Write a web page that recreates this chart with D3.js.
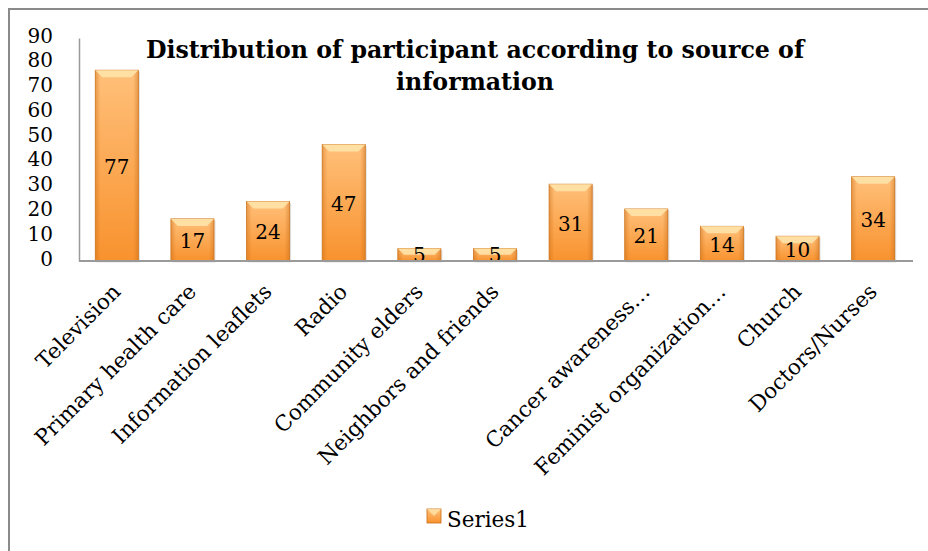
<!DOCTYPE html>
<html>
<head>
<meta charset="utf-8">
<script src="https://cdn.jsdelivr.net/npm/d3@7"></script>
<style>
  body { margin: 0; background: #fff; }
  svg { display: block; }
</style>
</head>
<body>
<svg class="chart" width="928" height="551"></svg>
<script>
(function () {

    'use strict';

    // the 7th bar has no category label in the source chart
    var categories = ['Television', 'Primary health care', 'Information leaflets', 'Radio',
        'Community elders', 'Neighbors and friends', '', 'Cancer awareness…',
        'Feminist organization…', 'Church', 'Doctors/Nurses'];
    var values = [77, 17, 24, 47, 5, 5, 31, 21, 14, 10, 34];
    var yTicks = [0, 10, 20, 30, 40, 50, 60, 70, 80, 90];
    var seriesName = 'Series1';
    var titleLines = ['Distribution of participant according to source of', 'information'];

    var svg = d3.select('svg.chart');
    var serif = "'DejaVu Serif', 'Liberation Serif', serif";
    var margin = { left: 79, right: 17, top: 38, bottom: 290 };
    var width = 928 - margin.left - margin.right;
    var height = 551 - margin.top - margin.bottom;

    var defs = svg.append('defs');
    var grad = defs.append('linearGradient').attr('id', 'barFill')
        .attr('x1', 0).attr('y1', 0).attr('x2', 0).attr('y2', 1);
    grad.append('stop').attr('offset', '0%').attr('stop-color', '#ffc07a');
    grad.append('stop').attr('offset', '100%').attr('stop-color', '#f8922e');
    var side = defs.append('linearGradient').attr('id', 'sideFill')
        .attr('x1', 0).attr('y1', 0).attr('x2', 1).attr('y2', 0);
    side.append('stop').attr('offset', '0%').attr('stop-color', '#c96c16').attr('stop-opacity', 0.45);
    side.append('stop').attr('offset', '12%').attr('stop-color', '#c96c16').attr('stop-opacity', 0);
    side.append('stop').attr('offset', '88%').attr('stop-color', '#c96c16').attr('stop-opacity', 0);
    side.append('stop').attr('offset', '100%').attr('stop-color', '#c96c16').attr('stop-opacity', 0.45);

    // frame
    svg.append('path')
        .attr('d', 'M9,551 V9 H928')
        .attr('fill', 'none').attr('stroke', '#8a8a8a').attr('stroke-width', 2);

    var g = svg.append('g').attr('transform', 'translate(' + margin.left + ',' + margin.top + ')');

    var x = d3.scaleBand().domain(d3.range(values.length)).range([0, width]).paddingInner(0.43).paddingOuter(0.215);
    var y = d3.scaleLinear().domain([0, 90]).range([height, 0]);

    // y axis
    var yAxis = g.append('g').call(d3.axisLeft(y).tickValues(yTicks).tickSize(0).tickPadding(10));
    yAxis.select('.domain').attr('stroke', '#9a9a9a').attr('stroke-width', 1.5);
    yAxis.selectAll('text').attr('font-family', serif).attr('font-size', 20).attr('fill', '#000')
        .attr('dy', '0.2em').attr('x', -26);

    // bars
    var bars = g.append('g').selectAll('g').data(values).enter().append('g')
        .attr('transform', function (d, i) { return 'translate(' + x(i) + ',0)'; });

    bars.append('rect')
        .attr('x', 1.5).attr('y', function (d) { return y(d) + 1.5; })
        .attr('width', x.bandwidth()).attr('height', function (d) { return height - y(d); })
        .attr('fill', '#000').attr('opacity', 0.12);
    bars.append('rect')
        .attr('y', function (d) { return y(d); })
        .attr('width', x.bandwidth()).attr('height', function (d) { return height - y(d); })
        .attr('fill', 'url(#barFill)').attr('stroke', '#d17a24').attr('stroke-width', 0.8);
    bars.append('rect')
        .attr('y', function (d) { return y(d); })
        .attr('width', x.bandwidth()).attr('height', function (d) { return height - y(d); })
        .attr('fill', 'url(#sideFill)');
    // top bevel
    bars.append('path')
        .attr('d', function (d) {
            var w = x.bandwidth(), t = y(d), b = Math.min(7, (height - t) / 2);
            return 'M0,' + t + 'H' + w + 'L' + (w - b) + ',' + (t + b) + 'H' + b + 'Z';
        })
        .attr('fill', '#ffe3a8').attr('opacity', 0.9);

    // baseline
    g.append('line').attr('x1', 0).attr('x2', width + 2).attr('y1', height).attr('y2', height)
        .attr('stroke', '#9a9a9a').attr('stroke-width', 2);

    // value labels
    bars.append('text')
        .attr('x', x.bandwidth() / 2)
        .attr('y', function (d) { return Math.min((y(d) + height) / 2 + 8, height + 1); })
        .attr('text-anchor', 'middle').attr('font-family', serif).attr('font-size', 20)
        .text(function (d) { return d; });

    // category labels
    g.append('g').selectAll('text').data(categories).enter().append('text')
        .attr('transform', function (d, i) {
            return 'translate(' + (x(i) + x.bandwidth() / 2 + 5) + ',' + (height + 32) + ') rotate(-45)';
        })
        .attr('text-anchor', 'end').attr('font-family', serif).attr('font-size', 21.5)
        .text(function (d) { return d; });

    // title
    svg.append('g').selectAll('text').data(titleLines).enter().append('text')
        .attr('x', 475).attr('y', function (d, i) { return 58 + i * 32; })
        .attr('text-anchor', 'middle').attr('font-family', serif).attr('font-weight', 'bold')
        .attr('font-size', 23.7).text(function (d) { return d; });

    // legend
    var legend = svg.append('g').attr('transform', 'translate(427,509)');
    legend.append('rect').attr('width', 14).attr('height', 14).attr('fill', 'url(#barFill)')
        .attr('stroke', '#c96c16').attr('stroke-width', 0.8);
    legend.append('path').attr('d', 'M0,0H14L7,7Z').attr('fill', '#ffe3a8').attr('opacity', 0.8);
    legend.append('text').attr('x', 20).attr('y', 18).attr('font-family', serif).attr('font-size', 21.5)
        .text(seriesName);
})();
</script>
</body>
</html>
